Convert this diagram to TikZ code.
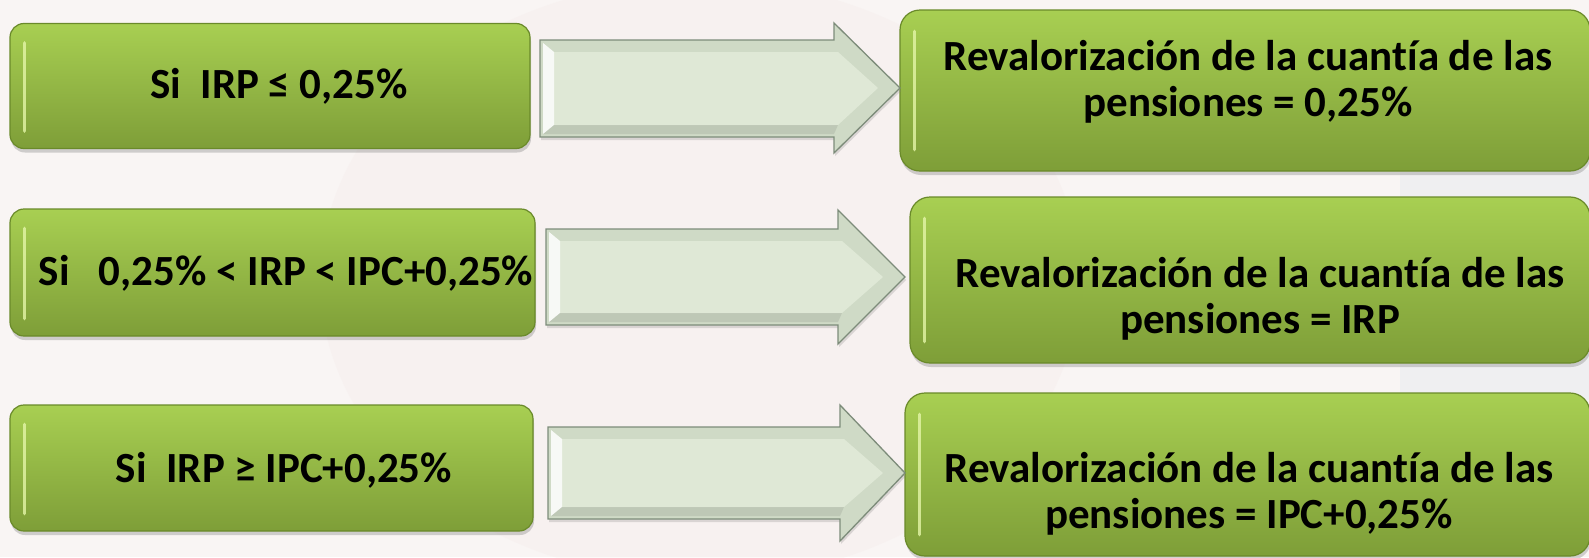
\documentclass[tikz,border=0pt]{standalone}
\usepackage{fontspec}
\setmainfont[Ligatures=NoCommon]{Carlito}
\usetikzlibrary{shadows}
\definecolor{bgc}{HTML}{F9F5F4}
\definecolor{bgpink}{HTML}{F1E2E0}
\definecolor{bgblue}{HTML}{E9ECEF}
\definecolor{gtop}{HTML}{A8CF52}
\definecolor{gbot}{HTML}{7E9E38}
\definecolor{gedge}{HTML}{6A8A2A}
\definecolor{glight}{HTML}{E4F5A8}
\definecolor{aout}{HTML}{CFDAC6}
\definecolor{ain}{HTML}{DFE8D6}
\definecolor{aedge}{HTML}{7D8C7A}
\begin{document}
\begin{tikzpicture}[x=1pt,y=-1pt,
  gbox/.style={rounded corners=14pt, top color=gtop, bottom color=gbot, draw=gedge, line width=1.2pt,
    drop shadow={shadow xshift=1pt, shadow yshift=-4pt, opacity=0.35}, inner sep=0pt},
  lbl/.style={font=\fontsize{43}{46}\selectfont\bfseries, align=center, inner sep=0pt, text=black},
  streak/.style={glight, line width=3.5pt, line cap=round, opacity=0.8},
  arrowout/.style={fill=aout, draw=aedge, line width=1.3pt, line join=miter,
    drop shadow={shadow xshift=1pt, shadow yshift=-3pt, opacity=0.25}},
  arrowin/.style={fill=ain, draw=none},
]
\useasboundingbox (0,0) rectangle (1589,557);
\clip (0,0) rectangle (1589,557);
% background
\fill[bgc] (0,0) rectangle (1589,557);
\fill[bgpink, opacity=0.18] (700,280) ellipse (380 and 300);
\fill[bgblue, opacity=0.6] (1400,170) rectangle (1589,400);

% left boxes
\node[gbox, minimum width=520pt, minimum height=125pt] (l1) at (270,86) {};
\node[gbox, minimum width=525pt, minimum height=127pt] (l2) at (272.5,272.5) {};
\node[gbox, minimum width=523pt, minimum height=126pt] (l3) at (271.5,468) {};
\draw[streak] ([shift={(15,20)}]l1.north west) -- ([shift={(15,-18)}]l1.south west);
\draw[streak] ([shift={(15,20)}]l2.north west) -- ([shift={(15,-18)}]l2.south west);
\draw[streak] ([shift={(15,20)}]l3.north west) -- ([shift={(15,-18)}]l3.south west);
\node[lbl] (t1) at (279,86) {Si\ \ IRP ≤ 0,25\%};
\node[lbl] (t2) at (286,273) {Si\ \ \ 0,25\% < IRP < IPC+0,25\%};
\node[lbl] (t3) at (284,470) {Si\ \ IRP ≥ IPC+0,25\%};

% right boxes
\node[gbox, rounded corners=20pt, minimum width=690pt, minimum height=161pt] (r1) at (1245,90.5) {};
\node[gbox, rounded corners=20pt, minimum width=680pt, minimum height=166pt] (r2) at (1250,280) {};
\node[gbox, rounded corners=20pt, minimum width=685pt, minimum height=163pt] (r3) at (1247.5,474.5) {};
\draw[streak] ([shift={(15,22)}]r1.north west) -- ([shift={(15,-22)}]r1.south west);
\draw[streak] ([shift={(15,22)}]r2.north west) -- ([shift={(15,-22)}]r2.south west);
\draw[streak] ([shift={(15,22)}]r3.north west) -- ([shift={(15,-22)}]r3.south west);
\node[lbl] (s1) at (1248,82) {Revalorización de la cuantía de las\\pensiones = 0,25\%};
\node[lbl] (s2) at (1260,299) {Revalorización de la cuantía de las\\pensiones = IRP};
\node[lbl] (s3) at (1249,494) {Revalorización de la cuantía de las\\pensiones = IPC+0,25\%};

% block arrows between the boxes
\foreach \bx/\hx/\tx/\bt/\bb/\ht/\hb/\my/\n in {
    540/834/900/40/137/23/153/88/1,
    546/838/905/229/325/210/344/277/2,
    548/840/905/427/519/405/541/473/3}{
  \draw[arrowout] (\bx,\bt) -- (\hx,\bt) -- (\hx,\ht) -- (\tx,\my) -- (\hx,\hb) -- (\hx,\bb) -- (\bx,\bb) -- cycle;
  \fill[arrowin] (\bx+14,\bt+12) -- (\hx+4,\bt+12) -- (\tx-22,\my) -- (\hx+4,\bb-12) -- (\bx+14,\bb-12) -- cycle;
  \fill[white, opacity=0.85] (\bx+3,\bt+3) -- (\bx+14,\bt+12) -- (\bx+14,\bb-12) -- (\bx+3,\bb-3) -- cycle;
  \fill[black, opacity=0.08] (\bx+3,\bb-3) -- (\bx+14,\bb-12) -- (\hx+4,\bb-12) -- (\hx,\bb-3) -- cycle;
}
\end{tikzpicture}
\end{document}
